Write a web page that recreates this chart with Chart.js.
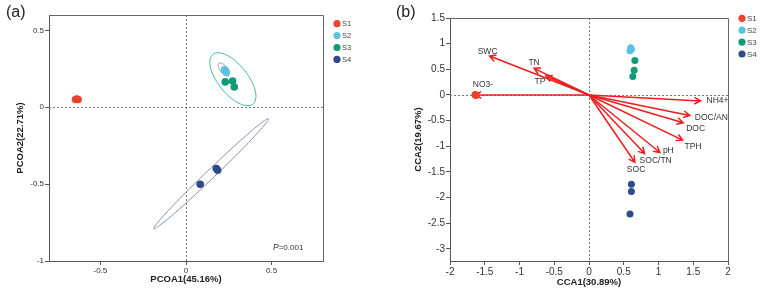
<!DOCTYPE html>
<html>
<head>
<meta charset="utf-8">
<script src="https://cdn.jsdelivr.net/npm/chart.js@4.4.1/dist/chart.umd.min.js"></script>
<style>
  body { margin: 0; background: #fff; }
  #wrap { position: relative; width: 767px; height: 295px; }
  .panel { position: absolute; top: 0; height: 295px; }
</style>
</head>
<body>
<div id="wrap">
  <div class="panel" style="left:0;width:380px"><canvas id="pcoa"></canvas></div>
  <div class="panel" style="left:380px;width:387px"><canvas id="cca"></canvas></div>
</div>
<script>
// groups shared by both panels
const groups = ['S1', 'S2', 'S3', 'S4'];
const groupColors = ['#e8462b', '#5bc3e0', '#0f9a78', '#2d4a8b'];

// (a) PCoA sample scores [x, y]
const pcoaS1 = [[-0.645, 0.05], [-0.63, 0.05], [-0.638, 0.053]];
const pcoaS2 = [[0.224, 0.244], [0.235, 0.228], [0.229, 0.241]];
const pcoaS3 = [[0.229, 0.165], [0.272, 0.171], [0.282, 0.132]];
const pcoaS4 = [[0.083, -0.501], [0.177, -0.399], [0.185, -0.41]];
const pcoaXTicks = [-0.5, 0, 0.5];
const pcoaYTicks = [-1, -0.5, 0, 0.5];

// (a) confidence ellipses: centre, end of major axis, end of minor axis
const ellipseGroups = ['S2', 'S3', 'S4'];
const ellipseCenter = [[0.221, 0.245], [0.274, 0.182], [0.147, -0.432]];
const ellipseMajor = [[0.250, 0.205], [0.390, 0.020], [0.482, -0.074]];
const ellipseMinor = [[0.205, 0.230], [0.206, 0.124], [0.165, -0.452]];

// (b) CCA sample scores [x, y]
const ccaS1 = [[-1.64, 0.01], [-1.63, -0.01], [-1.62, 0]];
const ccaS2 = [[0.60, 0.92], [0.59, 0.86], [0.61, 0.89]];
const ccaS3 = [[0.66, 0.67], [0.65, 0.48], [0.63, 0.36]];
const ccaS4 = [[0.61, -1.74], [0.61, -1.88], [0.59, -2.32]];
const ccaXTicks = [-2, -1.5, -1, -0.5, 0, 0.5, 1, 1.5, 2];
const ccaYTicks = [-3, -2.5, -2, -1.5, -1, -0.5, 0, 0.5, 1, 1.5];

// (b) environmental factor arrows (tip coordinates)
const envVars = ['SWC', 'TN', 'TP', 'NO3-', 'NH4+', 'DOC/AN', 'DOC', 'TPH', 'pH', 'SOC/TN', 'SOC'];
const envX = [-1.43, -0.79, -0.62, -1.64, 1.605, 1.45, 1.355, 1.346, 1.02, 0.80, 0.66];
const envY = [0.76, 0.52, 0.37, 0, -0.117, -0.40, -0.54, -0.88, -1.12, -1.14, -1.31];

// label placement next to arrow tips: dx, dy (px), text align
const envLabelPos = {
  'SWC': [-2, -4, 'center'], 'TN': [0, -6, 'center'], 'TP': [-6, 6, 'center'],
  'NO3-': [8, -10, 'center'], 'NH4+': [6, 0, 'left'], 'DOC/AN': [5, 2, 'left'],
  'DOC': [3, 6, 'left'], 'TPH': [2, 6, 'left'], 'pH': [3, -2, 'left'],
  'SOC/TN': [-5, 7, 'left'], 'SOC': [-8, 7, 'left']
};

const FONT = "'Liberation Sans', Arial, Helvetica, sans-serif";
Chart.defaults.font.family = FONT;
Chart.defaults.color = '#333';

function axis(min, max, ticks, size, tickSize, title, titlePad, horizontal) {
  return {
    type: 'linear', min, max,
    afterBuildTicks: s => { s.ticks = ticks.map(v => ({ value: v })); },
    afterFit: s => { if (horizontal) s.height = size; else s.width = size; },
    grid: { display: true, drawOnChartArea: false, drawTicks: true, tickLength: 4, tickColor: '#555', tickWidth: 1 },
    border: { display: true, color: '#555', width: 1 },
    ticks: { font: { size: tickSize }, color: '#333', padding: 1, maxRotation: 0, autoSkip: false, callback: v => String(v) },
    title: { display: true, text: title, color: '#222', font: { size: 9.5, weight: 'bold' }, padding: titlePad }
  };
}

function toDatasets(sets, radius) {
  return sets.map((pts, i) => ({
    label: groups[i],
    data: pts.map(([x, y]) => ({ x, y })),
    backgroundColor: groupColors[i],
    borderWidth: 0,
    pointRadius: radius,
    pointHoverRadius: radius
  }));
}

// dotted zero lines, box edges, legend and panel tag
function framePlugin(tag, legendTop, legendFont) {
  return {
    id: 'frame',
    beforeDatasetsDraw(chart) {
      const { ctx, chartArea: a, scales: { x, y } } = chart;
      ctx.save();
      ctx.strokeStyle = '#777';
      ctx.lineWidth = 1;
      ctx.setLineDash([2, 2]);
      const x0 = Math.round(x.getPixelForValue(0)) + 0.5;
      const y0 = Math.round(y.getPixelForValue(0)) + 0.5;
      ctx.beginPath();
      ctx.moveTo(x0, a.top); ctx.lineTo(x0, a.bottom);
      ctx.moveTo(a.left, y0); ctx.lineTo(a.right, y0);
      ctx.stroke();
      ctx.setLineDash([]);
      ctx.strokeStyle = '#666';
      ctx.beginPath();
      ctx.moveTo(a.left, Math.round(a.top) + 0.5);
      ctx.lineTo(Math.round(a.right) + 0.5, Math.round(a.top) + 0.5);
      ctx.lineTo(Math.round(a.right) + 0.5, a.bottom);
      ctx.stroke();
      ctx.restore();
    },
    afterDraw(chart) {
      const { ctx, chartArea: a } = chart;
      ctx.save();
      ctx.textBaseline = 'middle';
      groups.forEach((g, i) => {
        const cy = legendTop + i * 11.9;
        ctx.fillStyle = groupColors[i];
        ctx.beginPath();
        ctx.arc(a.right + 14, cy, 3.6, 0, Math.PI * 2);
        ctx.fill();
        ctx.fillStyle = '#444';
        ctx.font = legendFont + 'px ' + FONT;
        ctx.textAlign = 'left';
        ctx.fillText(g, a.right + 19, cy + 0.5);
      });
      ctx.fillStyle = '#222';
      ctx.font = '16px ' + FONT;
      ctx.fillText(tag, tag === '(a)' ? 6 : 16, 13);
      ctx.restore();
    }
  };
}

const ellipsePlugin = {
  id: 'ellipses',
  beforeDatasetsDraw(chart) {
    const { ctx, scales: { x, y } } = chart;
    ctx.save();
    ctx.lineWidth = 1;
    ellipseGroups.forEach((g, i) => {
      const cx = x.getPixelForValue(ellipseCenter[i][0]), cy = y.getPixelForValue(ellipseCenter[i][1]);
      const ax = x.getPixelForValue(ellipseMajor[i][0]) - cx, ay = y.getPixelForValue(ellipseMajor[i][1]) - cy;
      const bx = x.getPixelForValue(ellipseMinor[i][0]) - cx, by = y.getPixelForValue(ellipseMinor[i][1]) - cy;
      ctx.strokeStyle = g === 'S3' ? '#3cb8a2' : '#8591a8';
      ctx.beginPath();
      for (let k = 0; k <= 96; k++) {
        const t = k / 96 * Math.PI * 2;
        const px = cx + Math.cos(t) * ax + Math.sin(t) * bx;
        const py = cy + Math.cos(t) * ay + Math.sin(t) * by;
        if (k === 0) ctx.moveTo(px, py); else ctx.lineTo(px, py);
      }
      ctx.stroke();
    });
    ctx.restore();
  },
  afterDraw(chart) {
    const { ctx, chartArea: a } = chart;
    ctx.save();
    ctx.fillStyle = '#333';
    ctx.textBaseline = 'middle';
    ctx.textAlign = 'left';
    const px = a.right - 50, py = a.bottom - 13;
    ctx.font = 'italic 8.5px ' + FONT;
    ctx.fillText('P', px, py);
    const w = ctx.measureText('P').width;
    ctx.font = '8px ' + FONT;
    ctx.fillText('=0.001', px + w, py);
    ctx.restore();
  }
};

const arrowPlugin = {
  id: 'arrows',
  beforeDatasetsDraw(chart) {
    const { ctx, scales: { x, y } } = chart;
    const ox = x.getPixelForValue(0), oy = y.getPixelForValue(0);
    ctx.save();
    ctx.strokeStyle = '#ee1d1d';
    ctx.lineWidth = 1.5;
    envVars.forEach((v, i) => {
      const tx = x.getPixelForValue(envX[i]), ty = y.getPixelForValue(envY[i]);
      const ang = Math.atan2(ty - oy, tx - ox);
      ctx.beginPath();
      ctx.moveTo(ox, oy); ctx.lineTo(tx, ty);
      ctx.moveTo(tx - 7 * Math.cos(ang - 0.5), ty - 7 * Math.sin(ang - 0.5));
      ctx.lineTo(tx, ty);
      ctx.lineTo(tx - 7 * Math.cos(ang + 0.5), ty - 7 * Math.sin(ang + 0.5));
      ctx.stroke();
    });
    ctx.fillStyle = '#333';
    ctx.font = '8.5px ' + FONT;
    ctx.textBaseline = 'middle';
    envVars.forEach((v, i) => {
      const [dx, dy, align] = envLabelPos[v];
      ctx.textAlign = align;
      ctx.fillText(v, x.getPixelForValue(envX[i]) + dx, y.getPixelForValue(envY[i]) + dy);
    });
    ctx.restore();
  }
};

new Chart(document.getElementById('pcoa'), {
  type: 'scatter',
  data: { datasets: toDatasets([pcoaS1, pcoaS2, pcoaS3, pcoaS4], 3.8) },
  options: {
    responsive: true, maintainAspectRatio: false, animation: false,
    layout: { padding: { left: 0, top: 15, right: 57, bottom: 0 } },
    plugins: { legend: { display: false }, tooltip: { enabled: false } },
    scales: {
      x: axis(-0.8, 0.8, pcoaXTicks, 34, 8, 'PCOA1(45.16%)', { bottom: 9.5 }, true),
      y: axis(-1, 0.6, pcoaYTicks, 49, 8, 'PCOA2(22.71%)', { top: 14.5 }, false)
    }
  },
  plugins: [framePlugin('(a)', 23.7, 7.5), ellipsePlugin]
});

new Chart(document.getElementById('cca'), {
  type: 'scatter',
  data: { datasets: toDatasets([ccaS1, ccaS2, ccaS3, ccaS4], 3.5) },
  options: {
    responsive: true, maintainAspectRatio: false, animation: false,
    layout: { padding: { left: 0, top: 18, right: 39, bottom: 0 } },
    plugins: { legend: { display: false }, tooltip: { enabled: false } },
    scales: {
      x: axis(-2, 2, ccaXTicks, 34, 10, 'CCA1(30.89%)', { bottom: 7 }, true),
      y: axis(-3.234, 1.5, ccaYTicks, 70, 10, 'CCA2(19.67%)', { top: 32.3 }, false)
    }
  },
  plugins: [framePlugin('(b)', 18.3, 8), arrowPlugin]
});
</script>
</body>
</html>
